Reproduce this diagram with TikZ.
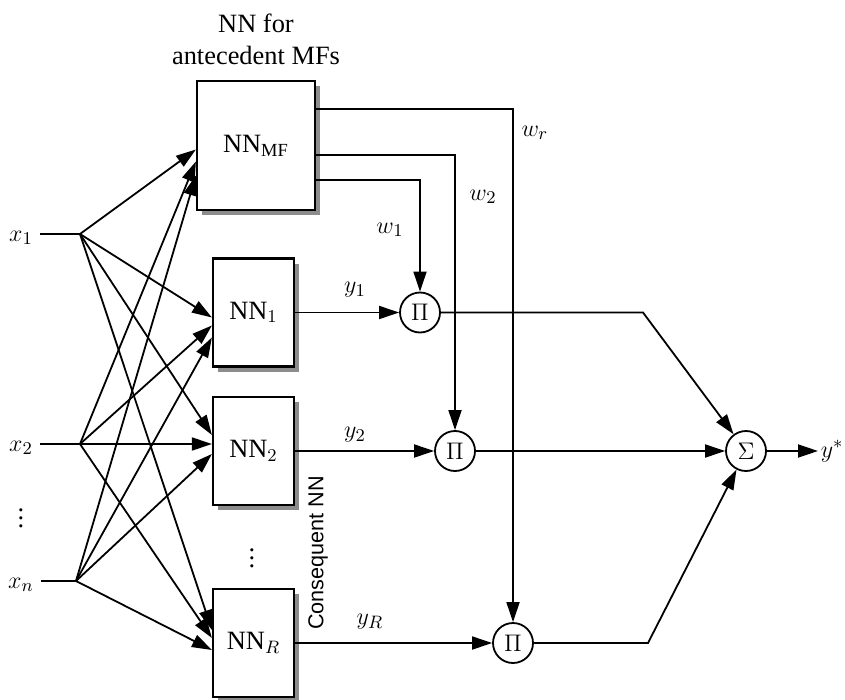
\documentclass[tikz,border=0pt]{standalone}
\usepackage{fontspec}
\setmainfont{Liberation Serif}
\newfontfamily\labelsans{Liberation Sans}
\usetikzlibrary{
  arrows.meta,
  shadows
}

\begin{document}
\begin{tikzpicture}[
  x=0.5pt, y=-0.5pt,
  font=\fontsize{13.2}{16}\selectfont,
  line width=0.9pt,
  netbox/.style={
    rectangle, draw, line width=1.1pt, fill=white,
    minimum width=40.5pt, minimum height=54pt, inner sep=0pt,
    drop shadow={shadow xshift=2.5pt, shadow yshift=-2.5pt, fill=black!45, opacity=1}
  },
  opnode/.style={circle, draw, line width=0.9pt, fill=white, minimum size=20pt, inner sep=0pt},
  arrow/.style={-{Triangle[length=10pt, width=6.5pt]}},
  sidelabel/.style={font=\labelsans\fontsize{10.8}{13}\selectfont},
]
\useasboundingbox (0,0) rectangle (845,700);

% Networks
\node[align=center] (title) at (256,39) {NN for\\antecedent MFs};
\node[netbox, minimum width=59pt, minimum height=64.5pt] (nnmf) at (256,145.5) {NN\textsubscript{MF}};
\node[netbox] (nn1) at (253.5,312.5) {NN$_1$};
\node[netbox] (nn2) at (253.5,451) {NN$_2$};
\node[netbox] (nnr) at (253.5,643) {NN$_R$};
\node (vd2) at (252,552) {$\vdots$};
\node[sidelabel, rotate=90] (cons) at (318,553) {Consequent NN};

% Inputs
\node (x1) at (21,238) {$x_1$};
\node (x2) at (21,448) {$x_2$};
\node (vd1) at (21,512) {$\vdots$};
\node (xn) at (21,585) {$x_n$};
\coordinate (f1) at (80,234);
\coordinate (f2) at (80,444);
\coordinate (fn) at (76,581);
\draw (x1.east |- f1) -- (f1);
\draw (xn.east |- fn) -- (fn);

% x1 fan
\draw[arrow] (f1) -- ([yshift=-2pt]nnmf.west);
\draw[arrow] (f1) -- ([yshift=-2.5pt]nn1.west);
\draw[arrow] (f1) -- ([yshift=8pt]nn2.west);
\draw[arrow] (f1) -- ([yshift=6.5pt]nnr.west);
% x2 fan
\draw[arrow] (f2) -- ([yshift=-8pt]nnmf.west);
\draw[arrow] (f2) -- ([yshift=-6.5pt]nn1.west);
\draw[arrow] (x2.east |- f2) -- ([yshift=3.5pt]nn2.west);
\draw[arrow] (f2) -- ([yshift=2.5pt]nnr.west);
% xn fan
\draw[arrow] (fn) -- ([yshift=-15pt]nnmf.west);
\draw[arrow] (fn) -- ([yshift=-12.5pt]nn1.west);
\draw[arrow] (fn) -- ([yshift=-1.5pt]nn2.west);
\draw[arrow] (fn) -- ([yshift=-3.5pt]nnr.west);

% Products and sum
\node[opnode] (p1) at (420,312.5) {$\Pi$};
\node[opnode] (p2) at (455,451) {$\Pi$};
\node[opnode] (pr) at (513,643) {$\Pi$};
\node[opnode] (sum) at (746,451) {$\Sigma$};
\node[anchor=west, inner sep=1pt] (ystar) at (818,451) {$y^*$};
\coordinate (k1) at (643,312.5);
\coordinate (kr) at (648,643);

\draw[arrow] (nn1) -- (p1);
\draw[arrow] (nn2) -- (p2);
\draw[arrow] (nnr) -- (pr);
\draw[arrow] (p1) -- (k1) -- (sum);
\draw[arrow] (p2) -- (sum);
\draw[arrow] (pr) -- (kr) -- (sum);
\draw[arrow] (sum) -- (ystar);

% Weights from NN_MF
\draw[arrow] ([yshift=18.25pt]nnmf.east) -| (pr);
\draw[arrow] ([yshift=-4.75pt]nnmf.east) -| (p2);
\draw[arrow] ([yshift=-17.25pt]nnmf.east) -| (p1);

% Labels
\node (w1) at (390,230) {$w_1$};
\node (w2) at (483,197) {$w_2$};
\node (wr) at (535,133) {$w_r$};
\node (y1) at (355,290) {$y_1$};
\node (y2) at (355,435) {$y_2$};
\node (yr) at (370,622) {$y_R$};

\end{tikzpicture}
\end{document}
